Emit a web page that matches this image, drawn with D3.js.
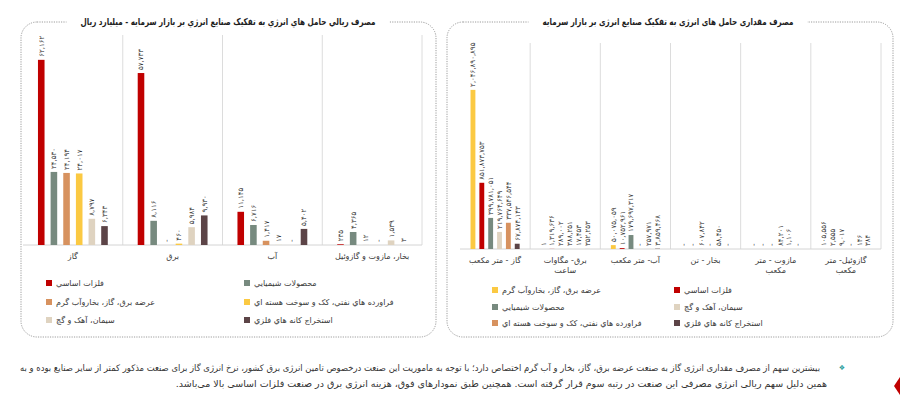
<!DOCTYPE html>
<html>
<head>
<meta charset="utf-8">
<script src="https://cdn.jsdelivr.net/npm/d3@7"></script>
<style>
  body { margin: 0; background: #fff; }
  svg { display: block; font-family: "DejaVu Sans", sans-serif; }
</style>
</head>
<body>
<svg id="chart" width="900" height="399"></svg>
<script>
// --- data: rial consumption (billion rial) ---
const rialCategories = ["گاز", "برق", "آب", "بخار، مازوت و گازوئیل"]
const rialSeries = [
  "فلزات اساسي",
  "محصولات شيميايي",
  "عرضه برق، گاز، بخاروآب گرم",
  "فراورده هاي نفتي، کک و سوخت هسته اي",
  "سيمان، آهک و گچ",
  "استخراج کانه هاي فلزي"
]
const rialValues = [
  [62162, 24530, 24194, 24017, 8797, 6343],
  [57733, 8116, 0, 460, 5984, 9930],
  [11145, 6716, 1417, 17, 0, 5402],
  [235, 4365, 12, 0, 1539, 3]
]

// --- data: quantity consumption ---
const qtyCategories = [
  ["گاز - متر مکعب"],
  ["برق- مگاوات", "ساعت"],
  ["آب- متر مکعب"],
  ["بخار - تن"],
  ["مازوت - متر", "مکعب"],
  ["گازوئیل- متر", "مکعب"]
]
const qtySeries = [
  "عرضه برق، گاز، بخاروآب گرم",
  "فلزات اساسي",
  "محصولات شيميايي",
  "سيمان، آهک و گچ",
  "فراورده هاي نفتي، کک و سوخت هسته اي",
  "استخراج کانه هاي فلزي"
]
const qtyValues = [
  [2046890895, 851873753, 399781051, 219764649, 337546544, 67874143],
  [1, 1319636, 289002, 388251, 17453, 352253],
  [50075059, 10752961, 179697317, 0, 257971, 3859468],
  [0, 0, 607842, 0, 58450, 0],
  [0, 0, 0, 84201, 1106, 0],
  [105556, 2555, 9017, 0, 146, 384]
]

// colours per series name
const colors = {
  "فلزات اساسي": "#c00000",
  "محصولات شيميايي": "#778a7f",
  "عرضه برق، گاز، بخاروآب گرم": "#d7925f",
  "فراورده هاي نفتي، کک و سوخت هسته اي": "#fbc942",
  "سيمان، آهک و گچ": "#dfd3c0",
  "استخراج کانه هاي فلزي": "#5c4447"
}
// in the quantity chart utilities and oil products swap colours
const qtyColors = {
  ...colors,
  "عرضه برق، گاز، بخاروآب گرم": "#fbc942",
  "فراورده هاي نفتي، کک و سوخت هسته اي": "#d7925f"
}

const faDigits = (s) => s.replace(/\d/g, (d) => "۰۱۲۳۴۵۶۷۸۹"[d])
const fmt = (v) => (v === 0 ? "-" : faDigits(d3.format(",")(v)))

const svg = d3.select("#chart")

function drawPanel(p) {
  const g = svg.append("g")

  // dotted rounded frame
  g.append("rect")
    .attr("x", p.box[0]).attr("y", p.box[1])
    .attr("width", p.box[2]).attr("height", p.box[3])
    .attr("rx", 16)
    .attr("fill", "none")
    .attr("stroke", "#9c9c9c")
    .attr("stroke-dasharray", "1.2,1.2")

  const x0 = d3.scaleBand().domain(d3.range(p.categories.length)).range(p.xRange)
  const x1 = d3.scaleBand()
    .domain(d3.range(p.series.length))
    .range([x0.bandwidth() * 0.15, x0.bandwidth() * 0.85])
    .paddingInner(p.pad)
  const y = d3.scaleLinear().domain([0, p.yMax]).range([p.base, p.top])

  // vertical grid lines between categories
  g.selectAll(".grid")
    .data(d3.range(1, p.categories.length + 1))
    .join("line")
    .attr("x1", (i) => p.xRange[0] + i * x0.step())
    .attr("x2", (i) => p.xRange[0] + i * x0.step())
    .attr("y1", p.top)
    .attr("y2", p.base)
    .attr("stroke", "#dcdcdc")

  g.append("line")
    .attr("x1", p.xRange[0]).attr("x2", p.xRange[1])
    .attr("y1", p.base).attr("y2", p.base)
    .attr("stroke", "#d4d4d4")

  const groups = g.selectAll(".grp")
    .data(p.values)
    .join("g")
    .attr("transform", (d, i) => `translate(${x0(i)},0)`)

  groups.selectAll("rect")
    .data((d) => d)
    .join("rect")
    .attr("x", (d, j) => x1(j))
    .attr("width", x1.bandwidth())
    .attr("y", (d) => y(d))
    .attr("height", (d) => y(0) - y(d))
    .attr("fill", (d, j) => p.colors[p.series[j]])

  // value labels, rotated
  groups.selectAll("text")
    .data((d) => d)
    .join("text")
    .attr("transform", (d, j) => `translate(${x1(j) + x1.bandwidth() / 2},${y(d) - 3}) rotate(-90)`)
    .attr("dy", "0.35em")
    .attr("font-size", 7)
    .attr("letter-spacing", 1)
    .attr("fill", "#3a3a3a")
    .text((d) => fmt(d))

  // category labels
  const cat = g.selectAll(".cat")
    .data(p.categories)
    .join("text")
    .attr("x", (d, i) => x0(i) + x0.bandwidth() / 2)
    .attr("y", p.base + 14)
    .attr("text-anchor", "middle")
    .attr("font-size", 8)
    .attr("fill", "#3a3a3a")
  cat.selectAll("tspan")
    .data((d) => (Array.isArray(d) ? d : [d]))
    .join("tspan")
    .attr("x", function () { return this.parentNode.getAttribute("x") })
    .attr("dy", (d, k) => (k === 0 ? 0 : 10))
    .text((d) => d)

  // legend, two columns, row-major
  const leg = g.selectAll(".leg")
    .data(p.series)
    .join("g")
    .attr("transform", (d, i) => `translate(${p.legendX[i % 2]},${p.legendY[Math.floor(i / 2)]})`)
  leg.append("rect")
    .attr("x", 0).attr("y", -3)
    .attr("width", 6).attr("height", 6)
    .attr("fill", (d) => p.colors[d])
  leg.append("text")
    .attr("x", 10)
    .attr("dy", "0.35em")
    .attr("font-size", 8)
    .attr("fill", "#3a3a3a")
    .text((d) => d)

  // title sitting on the frame
  const title = g.append("text")
    .attr("x", p.titleX)
    .attr("y", p.box[1])
    .attr("dy", "0.35em")
    .attr("text-anchor", "middle")
    .attr("font-size", 9.5)
    .attr("font-weight", "bold")
    .attr("fill", "#1e1e1e")
    .attr("textLength", p.titleW)
    .attr("lengthAdjust", "spacingAndGlyphs")
    .text(p.title)
  const bb = title.node().getBBox()
  g.insert("rect", () => title.node())
    .attr("x", p.titleX - p.titleW / 2 - 14).attr("y", bb.y)
    .attr("width", p.titleW + 28).attr("height", bb.height)
    .attr("fill", "#fff")
}

drawPanel({
  box: [21, 22, 415, 315],
  title: "مصرف ريالي حامل هاي انرژي به تفکيک صنايع انرژي بر بازار سرمايه - ميليارد ريال",
  titleX: 228,
  titleW: 295,
  categories: rialCategories,
  series: rialSeries,
  values: rialValues,
  colors: colors,
  xRange: [23, 422],
  base: 245,
  top: 35,
  yMax: 70500,
  pad: 0.48,
  legendX: [46, 244],
  legendY: [283, 302, 320]
})

drawPanel({
  box: [447, 22, 446, 315],
  title: "مصرف مقداری حامل های انرژی به تفکیک صنایع انرژی بر بازار سرمایه",
  titleX: 668,
  titleW: 251,
  categories: qtyCategories,
  series: qtySeries,
  values: qtyValues,
  colors: qtyColors,
  xRange: [460, 881],
  base: 249,
  top: 43,
  yMax: 2.65e9,
  pad: 0.45,
  legendX: [492, 674],
  legendY: [290, 307, 323]
})

// note under the charts
const note = svg.append("g")
  .attr("fill", "#333")
note.append("text")
  .attr("x", 820).attr("y", 371)
  .attr("text-anchor", "end")
  .attr("font-size", 9)
  .attr("textLength", 800)
  .attr("lengthAdjust", "spacingAndGlyphs")
  .text("بیشترین سهم از مصرف مقداری انرژی گاز به صنعت عرضه برق، گاز، بخار و آب گرم اختصاص دارد؛ با توجه به ماموریت این صنعت درخصوص تامین انرژی برق کشور، نرخ انرژی گاز برای صنعت مذکور کمتر از سایر صنایع بوده و به")
note.append("text")
  .attr("x", 827).attr("y", 387)
  .attr("direction", "rtl")
  .attr("text-anchor", "start")
  .attr("font-size", 9.5)
  .text("همین دلیل سهم ریالی انرژی مصرفی این صنعت در رتبه سوم قرار گرفته است. همچنین طبق نمودارهای فوق، هزینه انرژی برق در صنعت فلزات اساسی بالا می‌باشد.")
svg.append("text")
  .attr("x", 842).attr("y", 370)
  .attr("text-anchor", "middle")
  .attr("font-size", 7)
  .attr("fill", "#2a9d9b")
  .text("❖")

// red page mark at the right edge
svg.append("path")
  .attr("d", "M900,377 L894,386 L900,395 Z")
  .attr("fill", "#c00000")
</script>
</body>
</html>
